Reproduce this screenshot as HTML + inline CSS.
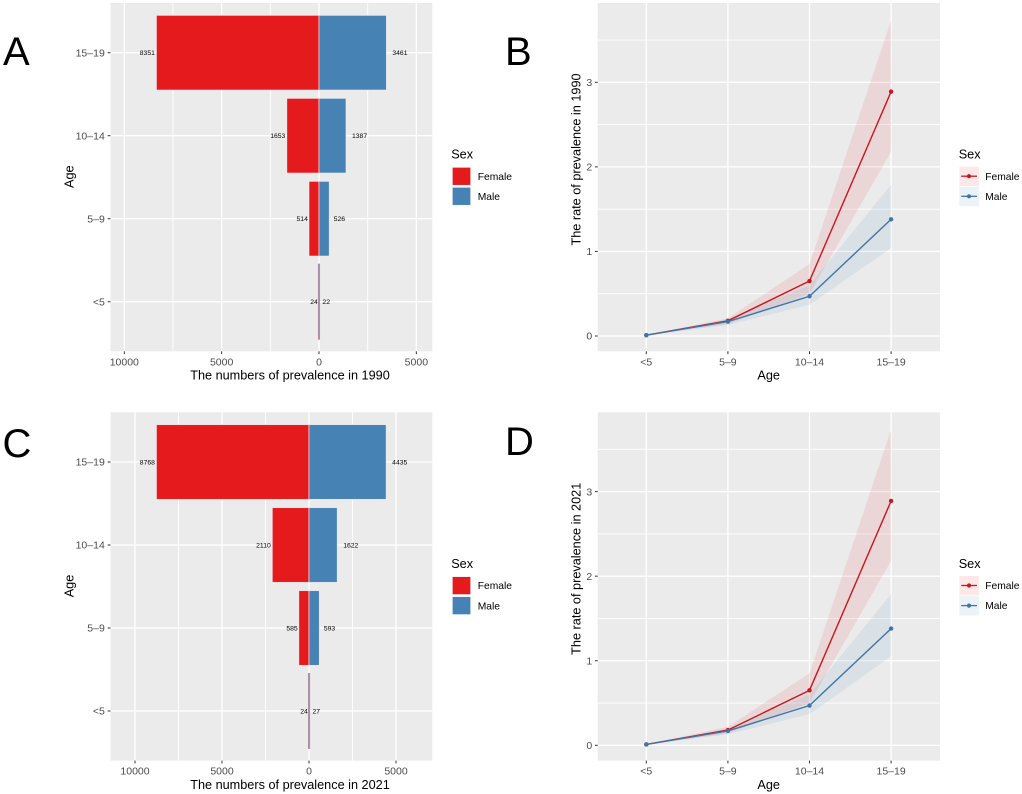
<!DOCTYPE html>
<html lang="en">
<head>
<meta charset="utf-8">
<title>Prevalence by age and sex, 1990 and 2021</title>
<style>
html,body{margin:0;padding:0;background:#fff;}
svg{display:block;font-family:"Liberation Sans",Arial,sans-serif;}
</style>
</head>
<body>
<svg id="figure" xmlns="http://www.w3.org/2000/svg" width="1022" height="794" viewBox="0 0 1022 794">
<rect width="1022" height="794" fill="#fff"/>
<text x="3" y="65" font-size="40" fill="#000">A</text>
<text x="505" y="65" font-size="40" fill="#000">B</text>
<text x="2.5" y="457" font-size="40" fill="#000">C</text>
<text x="505" y="455" font-size="40" fill="#000">D</text>
</svg>
<script>
const ageLabels = ['<5', '5\u20139', '10\u201314', '15\u201319'];

const femaleCounts1990 = [24, 514, 1653, 8351];
const maleCounts1990 = [22, 526, 1387, 3461];
const femaleCounts2021 = [24, 585, 2110, 8768];
const maleCounts2021 = [27, 593, 1622, 4435];

const countTicks = [-10000, -5000, 0, 5000];
const countMinorTicks = [-7500, -2500, 2500];
const countDomain1990 = [-10709, 5819];
const countDomain2021 = [-11408, 7086];

const rateFemale1990 = [0.01, 0.18, 0.65, 2.89];
const rateFemaleLow1990 = [0.01, 0.14, 0.5, 2.18];
const rateFemaleHigh1990 = [0.01, 0.21, 0.85, 3.73];
const rateMale1990 = [0.01, 0.17, 0.47, 1.38];
const rateMaleLow1990 = [0.01, 0.13, 0.37, 1.04];
const rateMaleHigh1990 = [0.01, 0.2, 0.6, 1.79];

const rateFemale2021 = [0.01, 0.18, 0.65, 2.89];
const rateFemaleLow2021 = [0.01, 0.14, 0.5, 2.18];
const rateFemaleHigh2021 = [0.01, 0.22, 0.85, 3.73];
const rateMale2021 = [0.01, 0.17, 0.47, 1.38];
const rateMaleLow2021 = [0.01, 0.13, 0.37, 1.05];
const rateMaleHigh2021 = [0.01, 0.2, 0.6, 1.79];

const rateTicks = [0, 1, 2, 3];
const rateMinorTicks = [0.5, 1.5, 2.5, 3.5];
const rateDomain = [-0.181, 3.938];

const RED = '#e41a1c';
const BLUE = '#4682b4';
const svg = document.getElementById('figure');

function add(parent, tag, attrs, text) {
  const node = document.createElementNS('http://www.w3.org/2000/svg', tag);
  for (const k in attrs) node.setAttribute(k, attrs[k]);
  if (text !== undefined) node.textContent = text;
  parent.appendChild(node);
  return node;
}
function scale(domain, range) {
  return v => range[0] + (v - domain[0]) / (domain[1] - domain[0]) * (range[1] - range[0]);
}

function drawCountPanel(dy, year, female, male, domain) {
  const group = add(svg, 'g', {transform: 'translate(0,' + dy + ')'});
  
  
  const L = 110.5, R = 432.3, T = 3, B = 351.3;
  const x = scale(domain, [L, R]);
  const y = i => 301.7 - 83 * i;
  const barH = 74.7;

  let el = add(group, 'rect', {x: L, y: T, width: R - L, height: B - T, fill: '#ebebeb'});
  
  

  countMinorTicks.forEach(t => {
    const g = add(group, 'line', {x1: x(t), x2: x(t), y1: T, y2: B, stroke: '#fff', 'stroke-width': 0.9});
    
    
  });
  countTicks.forEach(t => {
    const g = add(group, 'line', {x1: x(t), x2: x(t), y1: T, y2: B, stroke: '#fff', 'stroke-width': 1.3});
    
    
    const m = add(group, 'line', {x1: x(t), x2: x(t), y1: B, y2: B + 2.8, stroke: '#333', 'stroke-width': 1});
    
    
    const l = add(group, 'text', {x: x(t), y: 365.3, 'font-size': 10.5, fill: '#4d4d4d', 'text-anchor': 'middle'}, String(Math.abs(t)));
    
    
  });
  ageLabels.forEach((a, i) => {
    const g = add(group, 'line', {x1: L, x2: R, y1: y(i), y2: y(i), stroke: '#fff', 'stroke-width': 1.3});
    
    
    const m = add(group, 'line', {x1: L - 2.8, x2: L, y1: y(i), y2: y(i), stroke: '#333', 'stroke-width': 1});
    
    
    const l = add(group, 'text', {x: 104.8, y: y(i) + 3.7, 'font-size': 10.5, fill: '#4d4d4d', 'text-anchor': 'end'}, a);
    
    
  });
  ageLabels.forEach((a, i) => {
    const x0 = x(0), xf = x(-female[i]), xm = x(male[i]);
    const tiny = (xm - xf) < 3;
    const edge = tiny ? '#b08fa6' : '#f4f4f8';
    const edgeOpacity = tiny ? 1 : 0.75;
    const edgeWidth = tiny ? 1.2 : 0.8;
    const fb = add(group, 'rect', {x: xf, y: y(i) - barH / 2, width: x0 - xf, height: barH, fill: RED, stroke: edge, 'stroke-opacity': edgeOpacity, 'stroke-width': edgeWidth});
    
    
    const mb = add(group, 'rect', {x: x0, y: y(i) - barH / 2, width: xm - x0, height: barH, fill: BLUE, stroke: edge, 'stroke-opacity': edgeOpacity, 'stroke-width': edgeWidth});
    
    
    const fStr = String(female[i]), mStr = String(male[i]);
    const fl = add(group, 'text', {x: xf - 0.375 * fStr.length, y: y(i) + 2.4, 'font-size': 6.8, fill: '#000', 'text-anchor': 'end'}, fStr);
    
    
    const ml = add(group, 'text', {x: xm + 1.5 * mStr.length, y: y(i) + 2.4, 'font-size': 6.8, fill: '#000'}, mStr);
    
    
  });

  el = add(group, 'text', {x: 290, y: 379.5, 'font-size': 12.7, fill: '#000', 'text-anchor': 'middle'}, 'The numbers of prevalence in ' + year);
  
  
  el = add(group, 'text', {transform: 'translate(73.5,176.7) rotate(-90)', 'font-size': 12.7, fill: '#000', 'text-anchor': 'middle'}, 'Age');
  
  

  el = add(group, 'text', {x: 451.2, y: 158.5, 'font-size': 12.7, fill: '#000'}, 'Sex');
  
  
  el = add(group, 'rect', {x: 452.3, y: 167.3, width: 18.4, height: 18, fill: RED, stroke: '#f4f4f8', 'stroke-width': 0.7});
  
  
  el = add(group, 'rect', {x: 452.3, y: 187.3, width: 18.4, height: 18, fill: BLUE, stroke: '#f4f4f8', 'stroke-width': 0.7});
  
  
  el = add(group, 'text', {x: 477.7, y: 179.8, 'font-size': 10.3, fill: '#000'}, 'Female');
  
  
  el = add(group, 'text', {x: 477.7, y: 200, 'font-size': 10.3, fill: '#000'}, 'Male');
  
  
}

function drawRatePanel(dy, year, series) {
  const group = add(svg, 'g', {transform: 'translate(0,' + dy + ')'});
  
  
  const L = 597.7, R = 940, T = 3, B = 351.3;
  const x = i => 646.3 + 81.6 * i;
  const y = scale(rateDomain, [B, T]);

  let el = add(group, 'rect', {x: L, y: T, width: R - L, height: B - T, fill: '#ebebeb'});
  
  

  rateMinorTicks.forEach(t => {
    const g = add(group, 'line', {x1: L, x2: R, y1: y(t), y2: y(t), stroke: '#fff', 'stroke-width': 0.9});
    
    
  });
  rateTicks.forEach(t => {
    const g = add(group, 'line', {x1: L, x2: R, y1: y(t), y2: y(t), stroke: '#fff', 'stroke-width': 1.3});
    
    
    const m = add(group, 'line', {x1: L - 2.8, x2: L, y1: y(t), y2: y(t), stroke: '#333', 'stroke-width': 1});
    
    
    const l = add(group, 'text', {x: 592.2, y: y(t) + 3.7, 'font-size': 10.5, fill: '#4d4d4d', 'text-anchor': 'end'}, String(t));
    
    
  });
  ageLabels.forEach((a, i) => {
    const g = add(group, 'line', {x1: x(i), x2: x(i), y1: T, y2: B, stroke: '#fff', 'stroke-width': 1.3});
    
    
    const m = add(group, 'line', {x1: x(i), x2: x(i), y1: B, y2: B + 2.8, stroke: '#333', 'stroke-width': 1});
    
    
    const l = add(group, 'text', {x: x(i), y: 365.3, 'font-size': 10.5, fill: '#4d4d4d', 'text-anchor': 'middle'}, a);
    
    
  });

  series.forEach(s => {
    const top = s.high.map((v, i) => x(i) + ',' + y(v));
    const bottom = s.low.map((v, i) => x(i) + ',' + y(v)).reverse();
    const band = add(group, 'polygon', {points: top.concat(bottom).join(' '), fill: s.band, 'fill-opacity': 0.1});
    
    
  });
  series.forEach(s => {
    const line = add(group, 'polyline', {points: s.mid.map((v, i) => x(i) + ',' + y(v)).join(' '), fill: 'none', stroke: s.line, 'stroke-width': 1.4});
    
    
    s.mid.forEach((v, i) => {
      const p = add(group, 'circle', {cx: x(i), cy: y(v), r: 2.2, fill: s.line});
      
      
    });
  });

  el = add(group, 'text', {x: 768.7, y: 379.5, 'font-size': 12.7, fill: '#000', 'text-anchor': 'middle'}, 'Age');
  
  
  el = add(group, 'text', {transform: 'translate(580.5,159.5) rotate(-90)', 'font-size': 12.7, fill: '#000', 'text-anchor': 'middle'}, 'The rate of prevalence in ' + year);
  
  

  el = add(group, 'text', {x: 958.7, y: 158.5, 'font-size': 12.7, fill: '#000'}, 'Sex');
  
  
  series.forEach((s, i) => {
    const ky = 176.2 + 20.1 * i;
    const k = add(group, 'rect', {x: 959.4, y: ky - 9.5, width: 19.4, height: 19.4, fill: s.band, 'fill-opacity': 0.1});
    
    
    const l = add(group, 'line', {x1: 961.2, x2: 977, y1: ky, y2: ky, stroke: s.line, 'stroke-width': 1.3});
    
    
    const c = add(group, 'circle', {cx: 969, cy: ky, r: 2.1, fill: s.line});
    
    
    const t = add(group, 'text', {x: 985.2, y: ky + 3.6, 'font-size': 10.3, fill: '#000'}, s.label);
    
    
  });
}

drawCountPanel(0, 1990, femaleCounts1990, maleCounts1990, countDomain1990);
drawCountPanel(409.3, 2021, femaleCounts2021, maleCounts2021, countDomain2021);
drawRatePanel(0, 1990, [
  {name: 'female', label: 'Female', mid: rateFemale1990, low: rateFemaleLow1990, high: rateFemaleHigh1990, line: '#c8171f', band: '#e41a1c'},
  {name: 'male', label: 'Male', mid: rateMale1990, low: rateMaleLow1990, high: rateMaleHigh1990, line: '#3f76a6', band: '#377eb8'}
]);
drawRatePanel(409.3, 2021, [
  {name: 'female', label: 'Female', mid: rateFemale2021, low: rateFemaleLow2021, high: rateFemaleHigh2021, line: '#c8171f', band: '#e41a1c'},
  {name: 'male', label: 'Male', mid: rateMale2021, low: rateMaleLow2021, high: rateMaleHigh2021, line: '#3f76a6', band: '#377eb8'}
]);
</script>
</body>
</html>
